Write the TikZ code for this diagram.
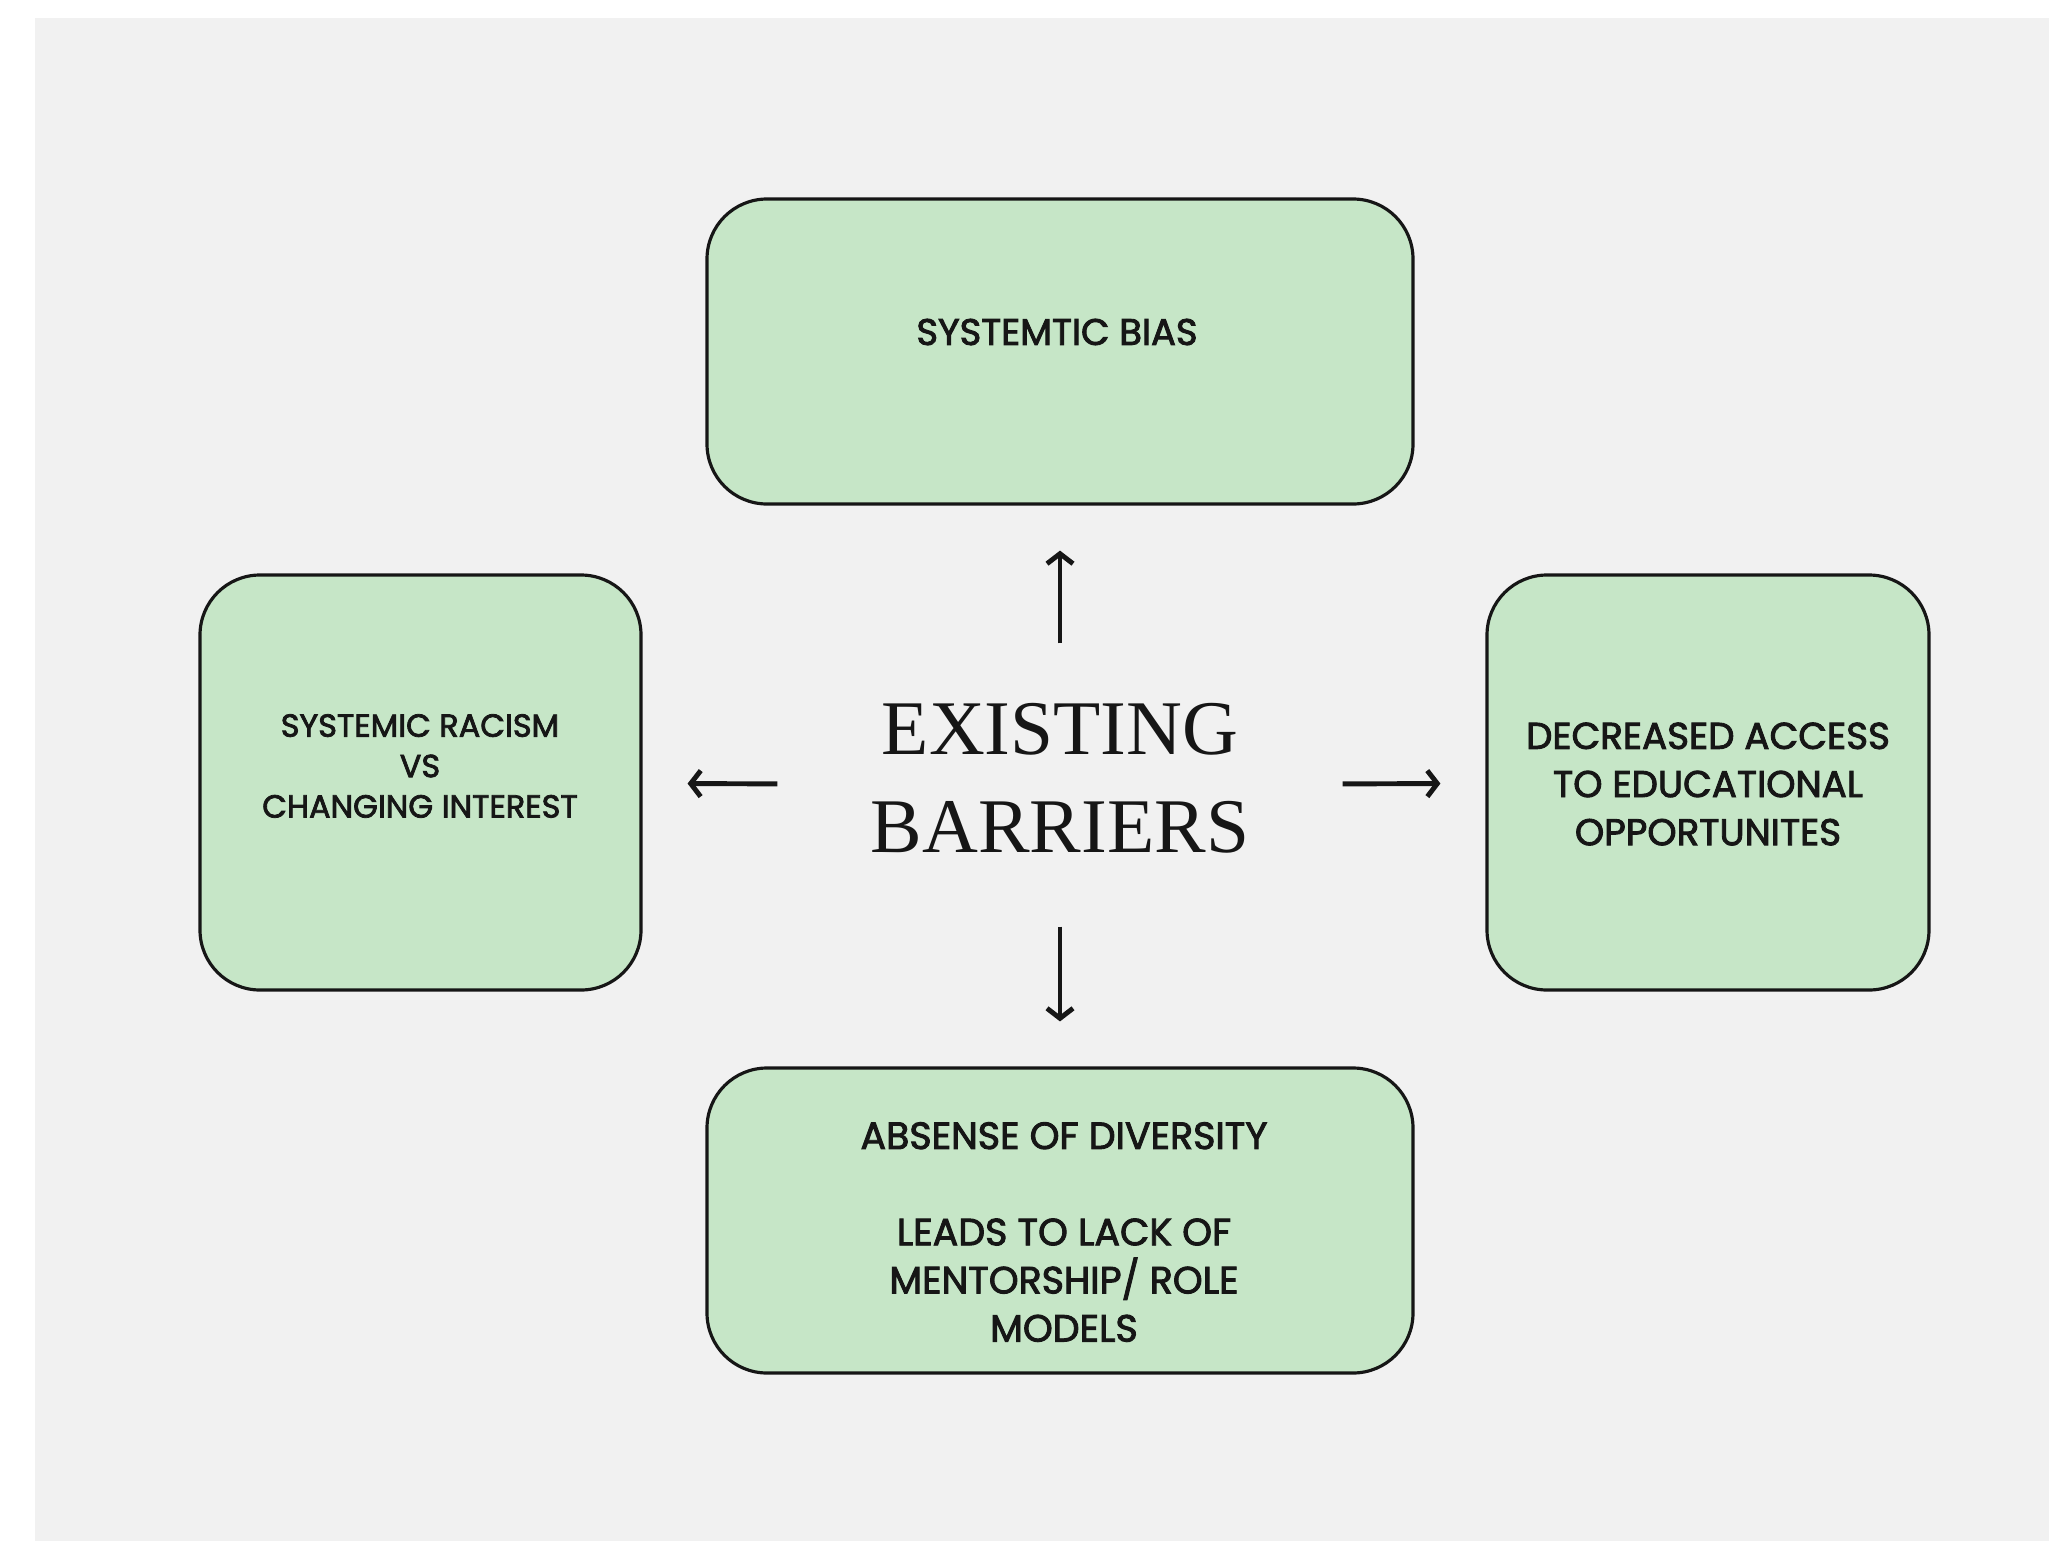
\documentclass[tikz,border=0pt]{standalone}
\usepackage{fontspec}
\setmainfont{Liberation Serif}
\newfontfamily\boxfont{Poppins}[FakeBold=2.4]
\usetikzlibrary{arrows.meta}
\definecolor{paper}{RGB}{241,241,241}
\definecolor{mint}{RGB}{198,230,199}
\definecolor{ink}{RGB}{22,22,22}
\begin{document}
\begin{tikzpicture}[
        barrier/.style={draw=ink,line width=0.9pt,fill=mint,rectangle,rounded corners=0.6cm},
        boxtext/.style={align=center,text=ink,inner sep=0pt},
        pointer/.style={draw=ink,line width=1.4pt,-{Straight Barb[length=0.1cm,width=0.26cm]},shorten >=0.45cm}
    ]
        %% Page
        \useasboundingbox (0,0) rectangle (20.49,-15.41);
        \fill[paper] (0.35,-0.18) rectangle (20.49,-15.41);
        %% Boxes
        \node[barrier,minimum width=7.06cm,minimum height=3.05cm] (bias) at (10.60,-3.515) {};
        \node[barrier,minimum width=4.41cm,minimum height=4.15cm] (racism) at (4.205,-7.825) {};
        \node[barrier,minimum width=4.42cm,minimum height=4.15cm] (access) at (17.08,-7.825) {};
        \node[barrier,minimum width=7.06cm,minimum height=3.05cm] (diversity) at (10.60,-12.205) {};
        %% Texts
        \node[boxtext,font=\boxfont\fontsize{10.5}{12}\selectfont] (biastext) at (10.57,-3.32) {SYSTEMTIC BIAS};
        \node[boxtext,font=\boxfont\fontsize{9.1}{11.5}\selectfont] (racismtext) at (4.20,-7.66) {SYSTEMIC RACISM\\VS\\CHANGING INTEREST};
        \node[boxtext,font=\boxfont\fontsize{10.6}{13.7}\selectfont] (accesstext) at (17.08,-7.84) {DECREASED ACCESS\\TO EDUCATIONAL\\OPPORTUNITES};
        \node[boxtext,font=\boxfont\fontsize{10.8}{13.7}\selectfont] (diversitytext) at (10.64,-12.32) {ABSENSE OF DIVERSITY\\[13.7pt]LEADS TO LACK OF\\MENTORSHIP/ ROLE\\MODELS};
        %% Centre
        \node[align=center,text=ink,font=\fontsize{22}{27.8}\selectfont,inner sep=0pt,text depth=0.14cm,minimum width=5.64cm,minimum height=2.82cm] (title) at (10.60,-7.85) {EXISTING\\BARRIERS};
        %% Arrows
        \draw[pointer] (title) -- (bias);
        \draw[pointer] (title) -- (racism);
        \draw[pointer] (title) -- (access);
        \draw[pointer] (title) -- (diversity);
    \end{tikzpicture}
\end{document}
